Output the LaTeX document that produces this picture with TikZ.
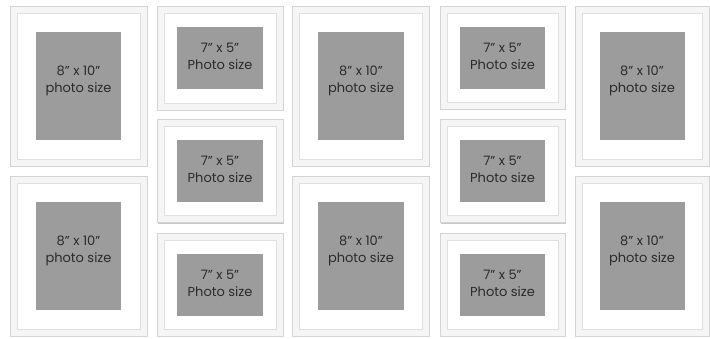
\documentclass[tikz,border=0pt]{standalone}
\usepackage{fontspec}
\setmainfont{Poppins}[Ligatures=ResetAll]
\definecolor{framefill}{HTML}{F5F5F5}
\definecolor{frameline}{HTML}{D4D4D4}
\definecolor{matline}{HTML}{E0E0E0}
\definecolor{photogray}{HTML}{9C9C9C}
\definecolor{textcol}{HTML}{2B2B2B}
\definecolor{shadowcol}{HTML}{C8C8C8}
\tikzset{
  framebox/.style={rectangle, draw=frameline, fill=framefill, line width=0.8pt, inner sep=0pt},
  matbox/.style={rectangle, draw=matline, fill=white, line width=0.8pt, inner sep=0pt},
  photobox/.style={rectangle, fill=photogray, inner sep=0pt},
  photolabel/.style={text=textcol, align=center, inner sep=0pt, font=\fontsize{13}{17}\selectfont},
}
\newcommand\myframe[9]{%
  \fill[shadowcol] ({#2-#4/2+0.8},{#3-#5/2+1.4}) rectangle ++(#4,#5);
  \node[framebox, minimum width=#4, minimum height=#5] (#1) at (#2,#3) {};
  \node[matbox, minimum width=#4-14, minimum height=#5-14] (#1-mat) at (#1.center) {};
  \node[photobox, minimum width=#6, minimum height=#7] (#1-photo) at (#1.center) {};
  \node[photolabel] (#1-text) at ([yshift=#9]#1.center) {#8};
}
\begin{document}
\begin{tikzpicture}[x=1pt,y=-1pt]
\useasboundingbox (0,0) rectangle (710,338);
\fill[white] (0,0) rectangle (710,338);
% column 1
\myframe{a1}{78.5}{86}{137}{160}{85}{108}{8" x 10"\\photo size}{5.5pt}
\myframe{a2}{78.5}{256}{137}{160}{85}{108}{8" x 10"\\photo size}{5.5pt}
% column 2
\myframe{b1}{220}{58}{126}{104}{86}{62}{7" x 5"\\Photo size}{1.5pt}
\myframe{b2}{220}{171}{126}{103}{86}{62}{7" x 5"\\Photo size}{1.5pt}
\myframe{b3}{220}{284.5}{126}{103}{86}{62}{7" x 5"\\Photo size}{1.5pt}
% column 3
\myframe{c1}{361}{86}{137}{160}{86}{108}{8" x 10"\\photo size}{5.5pt}
\myframe{c2}{361}{256}{137}{160}{86}{108}{8" x 10"\\photo size}{5.5pt}
% column 4
\myframe{d1}{502.5}{57.5}{125}{103}{85}{62}{7" x 5"\\Photo size}{1.5pt}
\myframe{d2}{502.5}{171}{125}{103}{85}{62}{7" x 5"\\Photo size}{1.5pt}
\myframe{d3}{502.5}{284.5}{125}{103}{85}{62}{7" x 5"\\Photo size}{1.5pt}
% column 5
\myframe{e1}{642}{86}{134}{160}{85}{108}{8" x 10"\\photo size}{5.5pt}
\myframe{e2}{642}{256}{134}{160}{85}{108}{8" x 10"\\photo size}{5.5pt}
\end{tikzpicture}
\end{document}
